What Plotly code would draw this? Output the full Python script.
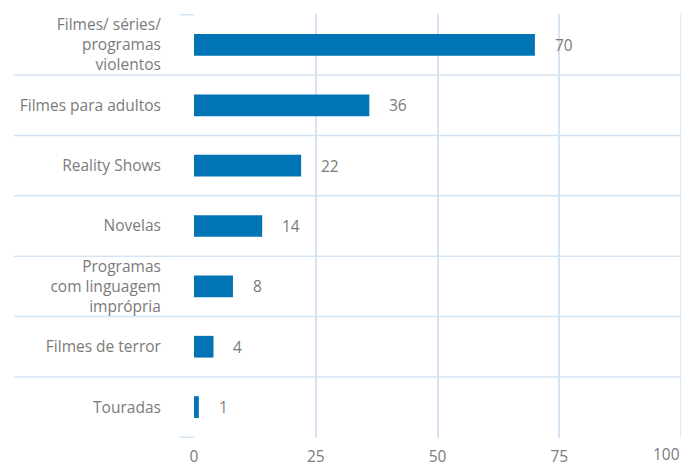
import plotly.graph_objects as go

categories = [
    "Filmes/ séries/<br>programas<br>violentos",
    "Filmes para adultos",
    "Reality Shows",
    "Novelas",
    "Programas<br>com linguagem<br>imprópria",
    "Filmes de terror",
    "Touradas",
]
values = [70, 36, 22, 14, 8, 4, 1]
x_ticks = [0, 25, 50, 75, 100]

grid = "#d5e4f3"
text_grey = "#7b7b7b"
font_family = "Open Sans, Noto Sans, sans-serif"
fsize = 15.5

fig = go.Figure()
fig.add_trace(go.Bar(
    x=values,
    y=categories,
    orientation="h",
    marker=dict(color="#0074b4", line=dict(width=0)),
    width=0.36,
    hoverinfo="skip",
))

# value labels to the right of each bar
for v, c in zip(values, categories):
    fig.add_annotation(
        x=v, y=c, text=str(v), showarrow=False,
        xanchor="left", yanchor="middle", xshift=18,
        font=dict(size=fsize, color=text_grey, family=font_family),
    )

# last x tick label kept inside the chart, right-aligned to its gridline
fig.add_annotation(
    x=x_ticks[-1], y=0, xref="x", yref="paper", text=str(x_ticks[-1]),
    showarrow=False, xanchor="right", yanchor="top", yshift=-4, borderpad=0,
    font=dict(size=fsize, color=text_grey, family=font_family),
)

# category separators (interior ones run out under the labels)
n = len(categories)
for i in range(n + 1):
    inner = 0 < i < n
    fig.add_shape(
        type="line", xref="paper", yref="y",
        x0=-0.37 if inner else -0.03, x1=1 if inner else 0,
        y0=i - 0.5, y1=i - 0.5,
        line=dict(color=grid, width=1.5),
        layer="below",
    )

# page body has an 8px margin, so the figure is sized to fit inside the window
fig.update_layout(
    width=689,
    height=458,
    margin=dict(l=186, r=16, t=6, b=28),
    plot_bgcolor="white",
    paper_bgcolor="white",
    showlegend=False,
    font=dict(family=font_family, size=fsize, color=text_grey),
    xaxis=dict(
        range=[0, 100],
        tickvals=x_ticks[:-1],
        showgrid=True,
        gridcolor=grid,
        gridwidth=1.5,
        zeroline=False,
        showline=False,
        ticks="outside",
        ticklen=4,
        tickcolor="rgba(0,0,0,0)",
        tickfont=dict(size=fsize, color=text_grey),
        automargin=False,
        fixedrange=True,
    ),
    yaxis=dict(
        autorange="reversed",
        showgrid=False,
        zeroline=False,
        showline=False,
        ticks="outside",
        ticklen=29,
        tickcolor="rgba(0,0,0,0)",
        tickfont=dict(size=fsize, color=text_grey),
        automargin=False,
        fixedrange=True,
    ),
)
# gridline at 100 (its tick label is an annotation)
fig.add_shape(
    type="line", xref="x", yref="paper", x0=x_ticks[-1], x1=x_ticks[-1],
    y0=0, y1=1, line=dict(color=grid, width=1.5), layer="below",
)

fig.write_html("out.html")
